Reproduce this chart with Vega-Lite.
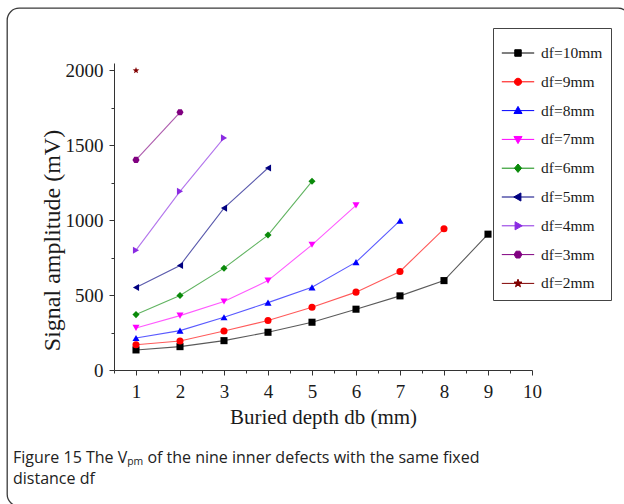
{
  "$schema": "https://vega.github.io/schema/vega-lite/v6.json",
  "width": 623,
  "height": 498,
  "autosize": "none",
  "padding": {"left": 7, "top": 8, "right": 0, "bottom": 0},
  "background": "white",
  "view": {"stroke": "#3a3a3a", "strokeWidth": 1.3, "cornerRadius": 12, "fill": "white"},
  "data": {
    "values": [
      {"s": "df=10mm", "f": 10, "d": 1, "v": 134}, {"s": "df=10mm", "f": 10, "d": 2, "v": 156}, {"s": "df=10mm", "f": 10, "d": 3, "v": 196},
      {"s": "df=10mm", "f": 10, "d": 4, "v": 252}, {"s": "df=10mm", "f": 10, "d": 5, "v": 319}, {"s": "df=10mm", "f": 10, "d": 6, "v": 406},
      {"s": "df=10mm", "f": 10, "d": 7, "v": 495}, {"s": "df=10mm", "f": 10, "d": 8, "v": 597}, {"s": "df=10mm", "f": 10, "d": 9, "v": 907},
      {"s": "df=9mm", "f": 9, "d": 1, "v": 169}, {"s": "df=9mm", "f": 9, "d": 2, "v": 194}, {"s": "df=9mm", "f": 9, "d": 3, "v": 261},
      {"s": "df=9mm", "f": 9, "d": 4, "v": 330}, {"s": "df=9mm", "f": 9, "d": 5, "v": 419}, {"s": "df=9mm", "f": 9, "d": 6, "v": 520},
      {"s": "df=9mm", "f": 9, "d": 7, "v": 658}, {"s": "df=9mm", "f": 9, "d": 8, "v": 943},
      {"s": "df=8mm", "f": 8, "d": 1, "v": 214}, {"s": "df=8mm", "f": 8, "d": 2, "v": 263}, {"s": "df=8mm", "f": 8, "d": 3, "v": 352},
      {"s": "df=8mm", "f": 8, "d": 4, "v": 450}, {"s": "df=8mm", "f": 8, "d": 5, "v": 552}, {"s": "df=8mm", "f": 8, "d": 6, "v": 720},
      {"s": "df=8mm", "f": 8, "d": 7, "v": 997},
      {"s": "df=7mm", "f": 7, "d": 1, "v": 281}, {"s": "df=7mm", "f": 7, "d": 2, "v": 363}, {"s": "df=7mm", "f": 7, "d": 3, "v": 457},
      {"s": "df=7mm", "f": 7, "d": 4, "v": 597}, {"s": "df=7mm", "f": 7, "d": 5, "v": 836}, {"s": "df=7mm", "f": 7, "d": 6, "v": 1099},
      {"s": "df=6mm", "f": 6, "d": 1, "v": 370}, {"s": "df=6mm", "f": 6, "d": 2, "v": 497}, {"s": "df=6mm", "f": 6, "d": 3, "v": 680},
      {"s": "df=6mm", "f": 6, "d": 4, "v": 901}, {"s": "df=6mm", "f": 6, "d": 5, "v": 1260},
      {"s": "df=5mm", "f": 5, "d": 1, "v": 551}, {"s": "df=5mm", "f": 5, "d": 2, "v": 698}, {"s": "df=5mm", "f": 5, "d": 3, "v": 1081},
      {"s": "df=5mm", "f": 5, "d": 4, "v": 1349},
      {"s": "df=4mm", "f": 4, "d": 1, "v": 800}, {"s": "df=4mm", "f": 4, "d": 2, "v": 1193}, {"s": "df=4mm", "f": 4, "d": 3, "v": 1550},
      {"s": "df=3mm", "f": 3, "d": 1, "v": 1403}, {"s": "df=3mm", "f": 3, "d": 2, "v": 1721},
      {"s": "df=2mm", "f": 2, "d": 1, "v": 2000}
    ]
  },
  "encoding": {
    "x": {
      "field": "d", "type": "quantitative",
      "scale": {"domain": [0.5, 10], "range": [107, 525], "nice": false, "zero": false},
      "axis": {
        "orient": "bottom", "offset": -136,
        "values": [0.5, 1, 1.5, 2, 2.5, 3, 3.5, 4, 4.5, 5, 5.5, 6, 6.5, 7, 7.5, 8, 8.5, 9, 9.5, 10],
        "labelExpr": "datum.value % 1 === 0 ? '' + datum.value : ''",
        "grid": false, "domainColor": "#333", "tickColor": "#333",
        "tickSize": {"condition": {"test": "datum.value % 1 === 0", "value": 5}, "value": 3},
        "labelFont": "Liberation Serif", "labelFontSize": 19, "labelColor": "#1a1a1a", "labelPadding": 7,
        "labelFlush": false, "labelOverlap": false,
        "title": "Buried depth db (mm)", "titleFont": "Liberation Serif", "titleFontSize": 21,
        "titleFontWeight": "normal", "titleColor": "#1a1a1a", "titleY": 36, "titleBaseline": "top"
      }
    },
    "y": {
      "field": "v", "type": "quantitative",
      "scale": {"domain": [0, 2050], "range": [362, 55], "nice": false, "zero": false},
      "axis": {
        "orient": "left", "offset": -107,
        "values": [0, 250, 500, 750, 1000, 1250, 1500, 1750, 2000],
        "labelExpr": "datum.value % 500 === 0 ? '' + datum.value : ''",
        "grid": false, "domainColor": "#333", "tickColor": "#333",
        "tickSize": {"condition": {"test": "datum.value % 500 === 0", "value": 5}, "value": 3},
        "labelFont": "Liberation Serif", "labelFontSize": 19, "labelColor": "#1a1a1a", "labelPadding": 6,
        "labelFlush": false, "labelOverlap": false,
        "title": "Signal amplitude (mV)", "titleFont": "Liberation Serif", "titleFontSize": 24,
        "titleFontWeight": "normal", "titleColor": "#1a1a1a", "titleX": -62, "titleY": 232,
        "titleBaseline": "middle", "titleAngle": -90, "titleAlign": "center"
      }
    },
    "color": {
      "field": "s", "type": "nominal",
      "scale": {
        "domain": ["df=10mm", "df=9mm", "df=8mm", "df=7mm", "df=6mm", "df=5mm", "df=4mm", "df=3mm", "df=2mm"],
        "range": ["#000000", "#ff0000", "#0000ff", "#ff00ff", "#0a8a0a", "#000080", "#8a2be2", "#800080", "#800000"]
      },
      "legend": {
        "orient": "none", "legendX": 486, "legendY": 20, "title": null,
        "direction": "vertical",
        "strokeColor": "#444", "fillColor": "white", "padding": 8,
        "symbolSize": 1050, "rowPadding": 2.8, "labelOffset": 6, "symbolOpacity": 1,
        "symbolStrokeWidth": 1,
        "labelFont": "Liberation Serif", "labelFontSize": 15.5, "labelColor": "#1a1a1a",
        "encode": {
          "symbols": {
            "update": {
              "shape": {"signal": "['M-1,0H1M-0.2,-0.2H0.2V0.2H-0.2Z','M-1,0H1M-0.22,0A0.22,0.22,0,1,0,0.22,0A0.22,0.22,0,1,0,-0.22,0Z','M-1,0H1M0,-0.26L0.25,0.18L-0.25,0.18Z','M-1,0H1M0,0.26L0.25,-0.18L-0.25,-0.18Z','M-1,0H1M0,-0.26L0.22,0L0,0.26L-0.22,0Z','M-1,0H1M-0.26,0L0.18,-0.25L0.18,0.25Z','M-1,0H1M0.26,0L-0.18,-0.25L-0.18,0.25Z','M-1,0H1M-0.24,0L-0.12,-0.21L0.12,-0.21L0.24,0L0.12,0.21L-0.12,0.21Z','M-1,0H1M0,-0.26L0.062,-0.085L0.247,-0.08L0.1,0.032L0.153,0.21L0,0.105L-0.153,0.21L-0.1,0.032L-0.247,-0.08L-0.062,-0.085Z'][indexof(['df=10mm','df=9mm','df=8mm','df=7mm','df=6mm','df=5mm','df=4mm','df=3mm','df=2mm'], datum.value)]"},
              "fill": {"scale": "color", "field": "value"},
              "stroke": {"scale": "color", "field": "value"}
            }
          }
        }
      }
    }
  },
  "layer": [
    {
      "mark": {"type": "line", "strokeWidth": 1.1, "opacity": 0.65}
    },
    {
      "mark": {"type": "point", "filled": true, "opacity": 1, "size": 50},
      "encoding": {
        "shape": {
          "field": "f", "type": "nominal", "legend": null,
          "scale": {
            "domain": [10, 9, 8, 7, 6, 5, 4, 3, 2],
            "range": ["square", "circle", "triangle-up", "triangle-down", "diamond", "triangle-left", "triangle-right", "M-1,0L-0.5,-0.866L0.5,-0.866L1,0L0.5,0.866L-0.5,0.866Z", "M0,-1L0.235,-0.324L0.951,-0.309L0.38,0.124L0.588,0.809L0,0.4L-0.588,0.809L-0.38,0.124L-0.951,-0.309L-0.235,-0.324Z"]
          }
        }
      }
    }
  ],
  "title": {
    "text": ["Figure 15  The Vₚₘ of the nine inner defects with the same fixed", "distance df"],
    "orient": "bottom", "anchor": "start", "frame": "group", "offset": -56, "dx": 6,
    "font": "Open Sans", "fontSize": 16, "fontWeight": "normal", "color": "#222", "lineHeight": 21
  }
}
